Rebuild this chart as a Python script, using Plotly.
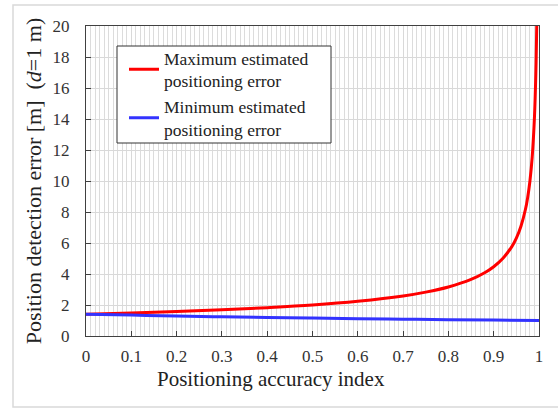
import plotly.graph_objects as go

# Data
x_max = [0, 0.1, 0.2, 0.3, 0.4, 0.5, 0.6, 0.7, 0.75, 0.8, 0.85, 0.88, 0.9, 0.92, 0.94, 0.95, 0.96,
         0.97, 0.975, 0.98, 0.985, 0.99, 0.993, 0.995, 0.997]
y_max = [1.41, 1.49, 1.58, 1.69, 1.83, 2.0, 2.24, 2.58, 2.83, 3.16, 3.65, 4.08, 4.47, 5.0, 5.77,
         6.32, 7.07, 8.16, 8.94, 10.0, 11.55, 14.14, 16.9, 20.0, 25.8]
x_min = [0, 0.1, 0.2, 0.3, 0.4, 0.5, 0.6, 0.7, 0.8, 0.9, 1.0]
y_min = [1.41, 1.35, 1.29, 1.24, 1.195, 1.155, 1.118, 1.085, 1.054, 1.026, 1.0]

x_ticks = [0, 0.1, 0.2, 0.3, 0.4, 0.5, 0.6, 0.7, 0.8, 0.9, 1]
x_ticklabels = ["0", "0.1", "0.2", "0.3", "0.4", "0.5", "0.6", "0.7", "0.8", "0.9", "1"]
y_ticks = [0, 2, 4, 6, 8, 10, 12, 14, 16, 18, 20]

FONT = "Liberation Serif, Times New Roman, serif"

# plot-area geometry (pixels) used to place the frame/legend box in paper units
L, R, T, B = 86, 539, 26, 336
W, H = R - L, B - T


def px(xp):
    return (xp - L) / W


def py(yp):
    return (B - yp) / H


fig = go.Figure()
fig.add_trace(go.Scatter(x=x_max, y=y_max, mode="lines", line=dict(color="#ff0000", width=3, shape="spline"),
                         name="Maximum estimated<br>positioning error"))
fig.add_trace(go.Scatter(x=x_min, y=y_min, mode="lines", line=dict(color="#3333ff", width=3, shape="spline"),
                         name="Minimum estimated<br>positioning error"))

fig.update_layout(
    width=558, height=408,
    margin=dict(l=L, r=558 - R, t=T, b=408 - B),
    paper_bgcolor="white", plot_bgcolor="white",
    font=dict(family=FONT, size=16, color="#333333"),
    showlegend=True,
    legend=dict(x=px(124), y=py(40), xanchor="left", yanchor="top",
                bgcolor="rgba(0,0,0,0)", borderwidth=0,
                font=dict(family=FONT, size=17.5, color="#222222"),
                itemwidth=30, tracegroupgap=2),
    xaxis=dict(range=[0, 1], tickvals=x_ticks, ticktext=x_ticklabels,
               tickfont=dict(family=FONT, size=17, color="#333333"),
               ticklabelstandoff=5,
               showgrid=True, gridcolor="#d9d9d9", gridwidth=1,
               minor=dict(dtick=0.01, showgrid=True, gridcolor="#dcdcdc", gridwidth=1, ticks=""),
               ticks="inside", ticklen=5, tickcolor="#404040",
               showline=True, linecolor="#404040", linewidth=1, mirror=True,
               zeroline=False),
    yaxis=dict(range=[0, 20], tickvals=y_ticks,
               tickfont=dict(family=FONT, size=17, color="#333333"),
               ticklabelstandoff=12,
               showgrid=True, gridcolor="#d9d9d9", gridwidth=1,
               ticks="inside", ticklen=5, tickcolor="#404040",
               showline=True, linecolor="#404040", linewidth=1, mirror=True,
               zeroline=False,
               title=dict(text="Position detection error [m]  (<i>d</i>=1 m)",
                          font=dict(family=FONT, size=22, color="#222222"), standoff=4)),
)

# x-axis title (offset left of the plot centre, as in the reference)
fig.add_annotation(text="Positioning accuracy index", xref="paper", yref="paper",
                   x=px(271), y=py(379), xanchor="center", yanchor="middle", showarrow=False,
                   font=dict(family=FONT, size=21, color="#222222"))

# Legend box
fig.add_shape(type="rect", xref="paper", yref="paper",
              x0=px(117), x1=px(331), y0=py(143), y1=py(46),
              line=dict(color="#333333", width=1), fillcolor="white", layer="above")

# Light frame around the whole chart
fig.add_shape(type="rect", xref="paper", yref="paper",
              x0=px(13), x1=px(562), y0=py(407), y1=py(5),
              line=dict(color="#d9d9d9", width=1.5), fillcolor="rgba(0,0,0,0)", layer="below")

fig.write_html("out.html")
